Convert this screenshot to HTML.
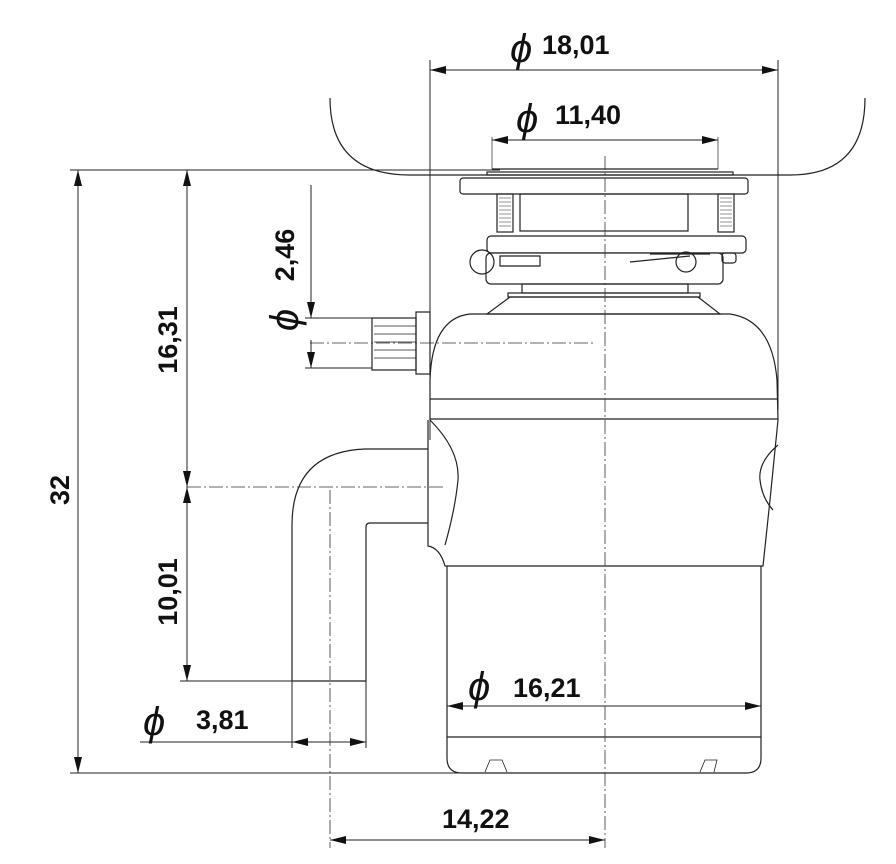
<!DOCTYPE html>
<html><head><meta charset="utf-8"><style>
html,body{margin:0;padding:0;background:#fff}
svg{display:block}
text{font-family:"Liberation Sans",sans-serif;font-weight:bold;font-size:27px;fill:#111}
.ph{font-style:italic;font-size:40px;font-weight:normal}
</style></head><body>
<svg width="896" height="864" viewBox="0 0 896 864" xmlns="http://www.w3.org/2000/svg">
<defs>
<marker id="a" viewBox="0 0 16 8" refX="16" refY="4" markerWidth="16" markerHeight="8" orient="auto-start-reverse" markerUnits="userSpaceOnUse"><path d="M0,0 L16,4 L0,8 z" fill="#111"/></marker>
</defs>
<g fill="none" stroke="#222" stroke-width="1.2">
<!-- sink -->
<path d="M330,98 Q330,175 410,175 L790,175 Q865,175 865,98"/>
<!-- flange -->
<line x1="492" y1="169" x2="718" y2="169"/>
<rect x="487" y="172" width="246" height="3"/>
<rect x="460" y="178" width="288" height="16" rx="3" fill="#fff"/>
<rect x="520" y="194" width="168" height="37"/>
<rect x="497" y="194" width="16" height="38"/>
<rect x="718" y="194" width="16" height="38"/>
<g stroke-width="0.6"><path d="M499,198h12M499,202h12M499,206h12M499,210h12M499,214h12M499,218h12M499,222h12M499,226h12M720,198h12M720,202h12M720,206h12M720,210h12M720,214h12M720,218h12M720,222h12M720,226h12"/></g>
<rect x="487" y="236" width="259" height="17" rx="4" fill="#fff"/>
<rect x="486" y="253" width="237" height="31" rx="5" fill="#fff"/>
<circle cx="482" cy="262" r="12"/><circle cx="686" cy="262" r="10"/>
<path d="M500,256h40v10h-40zM650,254h60M630,262l60,-6"/>
<rect x="722" y="253" width="14" height="10" rx="3"/>
<rect x="522" y="284" width="166" height="9"/>
<rect x="508" y="293" width="192" height="4"/>
<path d="M510,297 L698,297 L720,314 L487,314 Z"/>
<!-- main body -->
<path d="M430,420 L430,380 Q432,318 470,314 L730,314 Q772,320 777,380 L778,420"/>
<line x1="430" y1="399" x2="778" y2="399"/>
<line x1="430" y1="419" x2="778" y2="419"/>
<path d="M428,420 L428,546 Q440,548 445,566 L763,566 L770,500 L778,420"/>
<path d="M430,420 Q460,450 458,480 Q455,510 445,545"/>
<path d="M778,445 Q758,462 760,480 Q762,498 773,510"/>
<!-- inlet -->
<rect x="372" y="318" width="44" height="52"/>
<rect x="416" y="312" width="14" height="62"/>
<path d="M374,326h42M374,334h42M374,342h42M374,350h42M374,358h42" stroke-width="0.7"/>
<!-- drain elbow -->
<path d="M428,449 L365,449 Q292,452 292,525 L292,681"/>
<path d="M428,523 L370,523 Q366,523 366,527 L366,681"/>
<line x1="292" y1="681" x2="366" y2="681"/>
<!-- lower can -->
<path d="M447,566 L447,737 L761,737 L761,566"/>
<path d="M447,737 L447,758 Q447,773 462,773 L746,773 Q761,773 761,758 L761,737"/>
<path d="M485,772 l5,-12 h12 l5,12 M700,772 l5,-12 h12 l-3,12" stroke-width="0.8"/>
</g>
<!-- center lines -->
<g stroke="#333" stroke-width="0.8" fill="none" stroke-dasharray="14,3,2,3">
<line x1="605" y1="156" x2="605" y2="848"/>
<line x1="330" y1="490" x2="330" y2="848"/>
<line x1="310" y1="343" x2="595" y2="343"/>
<line x1="187" y1="487" x2="445" y2="487"/>
</g>
<!-- dimension lines -->
<g stroke="#222" stroke-width="1" fill="none">
<line x1="430" y1="60" x2="430" y2="440"/>
<line x1="778" y1="60" x2="778" y2="410"/>
<line x1="430" y1="70" x2="778" y2="70" marker-start="url(#a)" marker-end="url(#a)"/>
<line x1="492" y1="137" x2="492" y2="169" stroke-width="0.7"/>
<line x1="718" y1="137" x2="718" y2="169" stroke-width="0.7"/>
<line x1="492" y1="140" x2="718" y2="140" marker-start="url(#a)" marker-end="url(#a)"/>
<line x1="70" y1="170" x2="500" y2="170"/>
<line x1="70" y1="773" x2="605" y2="773"/>
<line x1="78" y1="170" x2="78" y2="773" marker-start="url(#a)" marker-end="url(#a)"/>
<line x1="187" y1="170" x2="187" y2="487" marker-start="url(#a)" marker-end="url(#a)"/>
<line x1="187" y1="487" x2="187" y2="681" marker-start="url(#a)" marker-end="url(#a)"/>
<line x1="180" y1="681" x2="292" y2="681"/>
<line x1="305" y1="318" x2="372" y2="318"/>
<line x1="305" y1="368" x2="372" y2="368"/>
<line x1="311" y1="185" x2="311" y2="318" marker-end="url(#a)"/>
<line x1="311" y1="368" x2="311" y2="340" marker-start="url(#a)"/>
<line x1="292" y1="681" x2="292" y2="748"/>
<line x1="366" y1="681" x2="366" y2="748"/>
<line x1="140" y1="742" x2="292" y2="742"/>
<line x1="292" y1="742" x2="366" y2="742" marker-start="url(#a)" marker-end="url(#a)"/>
<line x1="447" y1="706" x2="761" y2="706" marker-start="url(#a)" marker-end="url(#a)"/>
<line x1="330" y1="840" x2="605" y2="840" marker-start="url(#a)" marker-end="url(#a)"/>
</g>
<!-- labels -->
<text class="ph" x="510" y="62">ϕ</text><text x="542" y="54">18,01</text>
<text class="ph" x="516" y="132">ϕ</text><text x="555" y="124">11,40</text>
<text class="ph" x="468" y="700">ϕ</text><text x="513" y="697">16,21</text>
<text class="ph" x="143" y="735">ϕ</text><text x="196" y="729">3,81</text>
<text x="442" y="828">14,22</text>
<text transform="translate(69,490) rotate(-90)" text-anchor="middle">32</text>
<text transform="translate(177,340) rotate(-90)" text-anchor="middle">16,31</text>
<text transform="translate(177,592) rotate(-90)" text-anchor="middle">10,01</text>
<text transform="translate(294,255) rotate(-90)" text-anchor="middle">2,46</text>
<text class="ph" transform="translate(298,320) rotate(-90)" text-anchor="middle">ϕ</text>
</svg>
</body></html>
